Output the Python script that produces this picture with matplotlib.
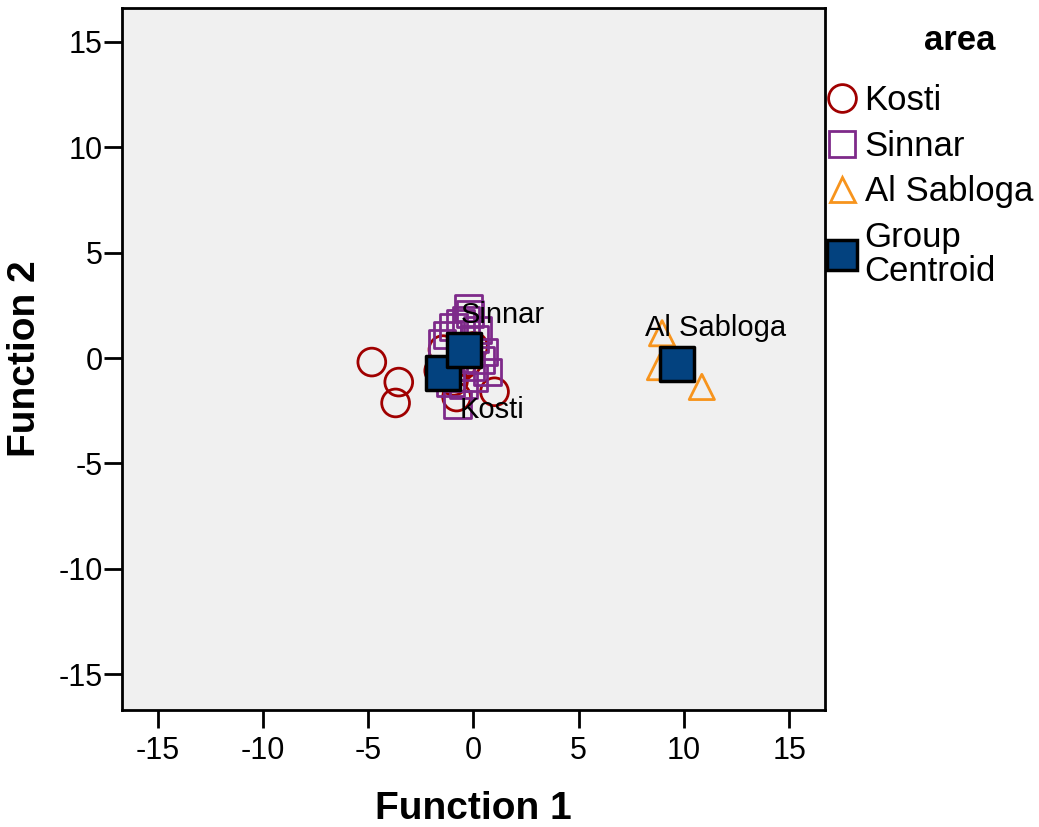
import matplotlib
matplotlib.use('Agg')
import matplotlib.pyplot as plt
from matplotlib.lines import Line2D

plt.rcParams['font.family'] = ['Liberation Sans', 'DejaVu Sans']
plt.rcParams['axes.unicode_minus'] = False

# discriminant scores per group
kosti_f1 = [-4.83, -3.55, -3.70, -1.45, -1.65, 1.00, -0.80, 0.00, -0.60, -0.95, -0.30]
kosti_f2 = [-0.19, -1.14, -2.13, 0.40, -0.60, -1.60, -1.85, 0.55, -0.40, -1.10, -0.20]

sinnar_f1 = [-0.24, -0.15, -0.62, -0.95, -1.23, -1.50, 0.47, 0.66, 0.00, -0.76, -0.47,
             0.19, 0.33, -1.09, -0.14, -0.35, 0.05]
sinnar_f2 = [2.37, 2.10, 1.66, 1.47, 1.09, 0.70, 0.28, -0.66, -0.95, -2.20, -1.28,
             1.33, -0.10, -1.18, -0.43, 1.80, 0.90]

sabloga_f1 = [8.96, 8.86, 10.85]
sabloga_f2 = [1.18, -0.43, -1.37]

groups = ['Kosti', 'Sinnar', 'Al Sabloga']
centroid_f1 = [-1.47, -0.43, 9.67]
centroid_f2 = [-0.71, 0.38, -0.28]
label_xy = [(-0.65, -2.45), (-0.6, 2.05), (8.15, 1.45)]

red = '#A00000'
purple = '#7E2A8A'
orange = '#F7941D'
navy = '#03427F'
bg = '#F0F0F0'

fig = plt.figure(figsize=(10.39, 8.27), dpi=100)
ax = fig.add_axes([0.1174, 0.1415, 0.6766, 0.8485])
ax.set_facecolor(bg)

ax.scatter(kosti_f1, kosti_f2, s=400, marker='o', facecolors='none',
           edgecolors=red, linewidths=2, zorder=3)
ax.scatter(sinnar_f1, sinnar_f2, s=360, marker='s', facecolors='none',
           edgecolors=purple, linewidths=2, zorder=3)
ax.scatter(sabloga_f1, sabloga_f2, s=330, marker='^', facecolors='none',
           edgecolors=orange, linewidths=2, zorder=3)
ax.scatter(centroid_f1, centroid_f2, s=620, marker='s', facecolors=navy,
           edgecolors='black', linewidths=2.5, zorder=4)

for name, (tx, ty) in zip(groups, label_xy):
    ax.text(tx, ty, name, fontsize=21, ha='left', va='center', zorder=5)

ax.set_xlim(-16.7, 16.7)
ax.set_ylim(-16.7, 16.6)
ticks = [-15, -10, -5, 0, 5, 10, 15]
ax.set_xticks(ticks)
ax.set_yticks(ticks)
ax.tick_params(direction='out', length=13, width=2, labelsize=22)
ax.tick_params(axis='x', pad=6)
ax.tick_params(axis='y', pad=1)
for sp in ax.spines.values():
    sp.set_linewidth(2)

ax.set_xlabel('Function 1', fontsize=28, fontweight='bold')
ax.set_ylabel('Function 2', fontsize=28, fontweight='bold')
ax.xaxis.set_label_coords(0.5, -0.115)
ax.yaxis.set_label_coords(-0.112, 0.5)

handles = [
    Line2D([], [], linestyle='none', marker='o', markersize=20, markerfacecolor='none',
           markeredgecolor=red, markeredgewidth=2),
    Line2D([], [], linestyle='none', marker='s', markersize=19, markerfacecolor='none',
           markeredgecolor=purple, markeredgewidth=2),
    Line2D([], [], linestyle='none', marker='^', markersize=18, markerfacecolor='none',
           markeredgecolor=orange, markeredgewidth=2),
    Line2D([], [], linestyle='none', marker='s', markersize=22, markerfacecolor=navy,
           markeredgecolor='black', markeredgewidth=2.5),
]
labels = ['Kosti', 'Sinnar', 'Al Sabloga', 'Group\nCentroid']
leg = fig.legend(handles, labels, loc='upper left', bbox_to_anchor=(0.782, 0.915),
                 frameon=False, fontsize=25, handlelength=0.9,
                 handletextpad=0.2, labelspacing=0.36, borderaxespad=0)
for t in leg.get_texts():
    t.set_linespacing(1.05)
fig.text(0.958, 0.951, 'area', fontsize=25, fontweight='bold', ha='right', va='center')

fig.savefig('out.png', dpi=100)
